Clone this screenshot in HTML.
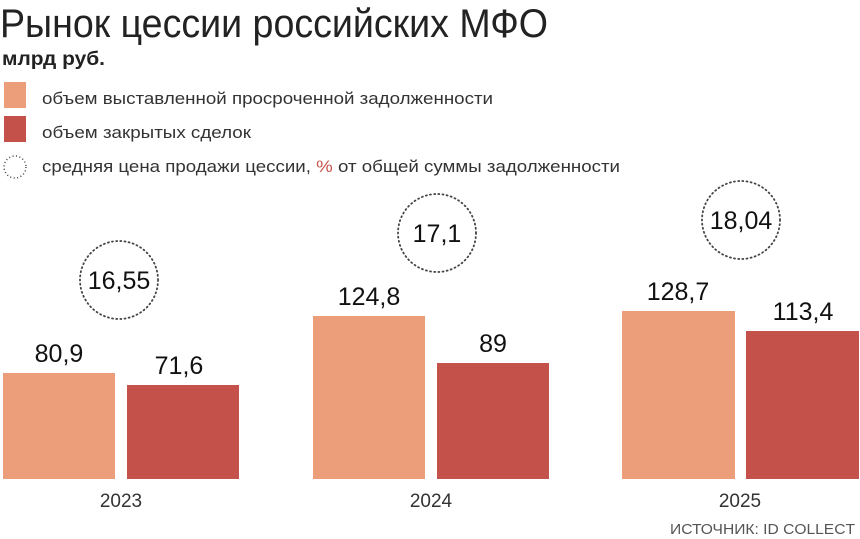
<!DOCTYPE html>
<html><head><meta charset="utf-8"><style>
html,body{margin:0;padding:0;background:#fff;}
svg{display:block;font-family:"Liberation Sans","DejaVu Sans",sans-serif;}
</style></head><body>
<svg width="860" height="539" viewBox="0 0 860 539" xmlns="http://www.w3.org/2000/svg">
<text x="0" y="37" font-size="40" fill="#222" font-weight="300" textLength="548" lengthAdjust="spacingAndGlyphs">Рынок цессии российских МФО</text>
<text x="2" y="65" font-size="19" fill="#222" font-weight="bold" textLength="103" lengthAdjust="spacingAndGlyphs">млрд руб.</text>
<rect x="4" y="82" width="22" height="26" fill="#ec9d7a"/>
<rect x="4" y="116" width="22" height="26" fill="#c5524a"/>
<circle cx="15" cy="167" r="11" fill="none" stroke="#444" stroke-width="1.5" stroke-dasharray="1 2.5"/>
<g font-size="17" fill="#333">
<text x="42" y="104" textLength="451" lengthAdjust="spacingAndGlyphs">объем выставленной просроченной задолженности</text>
<text x="42" y="138" textLength="209" lengthAdjust="spacingAndGlyphs">объем закрытых сделок</text>
<text x="42" y="172" textLength="578" lengthAdjust="spacingAndGlyphs">средняя цена продажи цессии, <tspan fill="#c5524a">%</tspan> от общей суммы задолженности</text>
</g>
<g fill="#ec9d7a">
<rect x="3" y="373" width="112" height="106"/>
<rect x="313" y="316" width="112" height="163"/>
<rect x="622" y="311" width="113" height="168"/>
</g>
<g fill="#c5524a">
<rect x="127" y="385" width="112" height="94"/>
<rect x="437" y="363" width="112" height="116"/>
<rect x="746" y="331" width="113" height="148"/>
</g>
<g fill="none" stroke="#444" stroke-width="1.8" stroke-dasharray="1 3.2" stroke-linecap="round">
<circle cx="119" cy="280" r="39"/>
<circle cx="437" cy="233" r="39"/>
<circle cx="741" cy="220" r="39"/>
</g>
<g font-size="25" fill="#111" text-anchor="middle">
<text x="119" y="289">16,55</text>
<text x="437" y="242">17,1</text>
<text x="741" y="229">18,04</text>
<text x="59" y="362">80,9</text>
<text x="179" y="374">71,6</text>
<text x="369" y="305">124,8</text>
<text x="493" y="352">89</text>
<text x="678" y="300">128,7</text>
<text x="803" y="320">113,4</text>
</g>
<g font-size="19" fill="#333" text-anchor="middle">
<text x="121" y="507">2023</text>
<text x="431" y="507">2024</text>
<text x="740" y="507">2025</text>
</g>
<text x="855" y="534" font-size="15" fill="#555" text-anchor="end" textLength="185" lengthAdjust="spacingAndGlyphs">ИСТОЧНИК: ID COLLECT</text>
</svg>
</body></html>
